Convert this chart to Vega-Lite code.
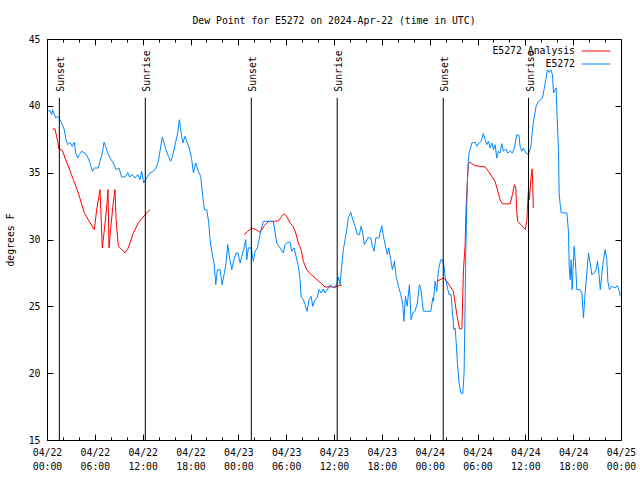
{
"$schema": "https://vega.github.io/schema/vega-lite/v6.json",
"autosize": {"type": "none"},
"padding": {"left": 47, "top": 39, "right": 19, "bottom": 40},
"width": 574,
"height": 401,
"background": "white",
"title": {"text": "Dew Point for E5272 on 2024-Apr-22 (time in UTC)", "font": "DejaVu Sans Mono", "fontSize": 9.8, "fontWeight": "normal", "color": "black", "offset": 8},
"config": {
  "view": {"stroke": "black", "strokeWidth": 1},
  "axis": {"labelFont": "DejaVu Sans Mono", "labelFontSize": 9.8, "labelColor": "black", "titleFont": "DejaVu Sans Mono", "titleFontSize": 9.8, "titleFontWeight": "normal", "titleColor": "black", "tickColor": "black", "domain": false, "grid": false, "labelFlush": false, "labelOverlap": false}
},
"datasets": {
"ana": [
{"seg":1,"hour":0.67,"dewpoint":38.27},{"seg":1,"hour":1.0,"dewpoint":38.27},{"seg":1,"hour":1.34,"dewpoint":37.34},{"seg":1,"hour":1.5,"dewpoint":36.77},{"seg":1,"hour":1.92,"dewpoint":36.67},{"seg":1,"hour":2.26,"dewpoint":36.1},{"seg":1,"hour":2.76,"dewpoint":35.35},{"seg":1,"hour":3.3,"dewpoint":34.48},{"seg":1,"hour":3.93,"dewpoint":33.48},{"seg":1,"hour":4.68,"dewpoint":31.99},{"seg":1,"hour":5.4,"dewpoint":31.24},{"seg":1,"hour":5.94,"dewpoint":30.74},{"seg":1,"hour":6.23,"dewpoint":32.23},{"seg":1,"hour":6.65,"dewpoint":33.73},{"seg":1,"hour":6.94,"dewpoint":29.37},{"seg":1,"hour":7.15,"dewpoint":30.5},{"seg":1,"hour":7.5,"dewpoint":32.5},{"seg":1,"hour":7.65,"dewpoint":33.73},{"seg":1,"hour":7.78,"dewpoint":29.37},{"seg":1,"hour":8.0,"dewpoint":30.9},{"seg":1,"hour":8.3,"dewpoint":32.7},{"seg":1,"hour":8.53,"dewpoint":33.73},{"seg":1,"hour":8.66,"dewpoint":31.5},{"seg":1,"hour":8.95,"dewpoint":29.49},{"seg":1,"hour":9.3,"dewpoint":29.3},{"seg":1,"hour":9.79,"dewpoint":29.0},{"seg":1,"hour":10.2,"dewpoint":29.37},{"seg":1,"hour":10.83,"dewpoint":30.49},{"seg":1,"hour":11.46,"dewpoint":31.24},{"seg":1,"hour":12.3,"dewpoint":31.86},{"seg":1,"hour":12.92,"dewpoint":32.23},
{"seg":2,"hour":24.72,"dewpoint":30.36},{"seg":2,"hour":25.18,"dewpoint":30.61},{"seg":2,"hour":25.68,"dewpoint":30.86},{"seg":2,"hour":26.18,"dewpoint":30.74},{"seg":2,"hour":26.73,"dewpoint":30.54},{"seg":2,"hour":27.27,"dewpoint":31.04},{"seg":2,"hour":27.77,"dewpoint":31.34},{"seg":2,"hour":28.52,"dewpoint":31.36},{"seg":2,"hour":29.02,"dewpoint":31.39},{"seg":2,"hour":29.44,"dewpoint":31.73},{"seg":2,"hour":29.78,"dewpoint":31.91},{"seg":2,"hour":30.07,"dewpoint":31.73},{"seg":2,"hour":30.49,"dewpoint":31.24},{"seg":2,"hour":30.9,"dewpoint":30.94},{"seg":2,"hour":31.2,"dewpoint":30.49},{"seg":2,"hour":31.53,"dewpoint":29.74},{"seg":2,"hour":31.87,"dewpoint":29.24},{"seg":2,"hour":32.16,"dewpoint":28.37},{"seg":2,"hour":32.58,"dewpoint":27.74},{"seg":2,"hour":33.0,"dewpoint":27.44},{"seg":2,"hour":33.63,"dewpoint":27.12},{"seg":2,"hour":34.25,"dewpoint":26.8},{"seg":2,"hour":34.88,"dewpoint":26.45},{"seg":2,"hour":35.72,"dewpoint":26.45},{"seg":2,"hour":36.14,"dewpoint":26.45},{"seg":2,"hour":36.64,"dewpoint":26.55},{"seg":2,"hour":37.0,"dewpoint":26.6},
{"seg":3,"hour":48.9,"dewpoint":26.87},{"seg":3,"hour":49.3,"dewpoint":26.99},{"seg":3,"hour":49.73,"dewpoint":27.12},{"seg":3,"hour":50.15,"dewpoint":26.87},{"seg":3,"hour":50.56,"dewpoint":26.5},{"seg":3,"hour":50.98,"dewpoint":26.12},{"seg":3,"hour":51.28,"dewpoint":24.88},{"seg":3,"hour":51.53,"dewpoint":23.99},{"seg":3,"hour":51.74,"dewpoint":23.31},{"seg":3,"hour":52.04,"dewpoint":23.31},{"seg":3,"hour":52.24,"dewpoint":27.74},{"seg":3,"hour":52.45,"dewpoint":29.62},{"seg":3,"hour":52.57,"dewpoint":32.36},{"seg":3,"hour":52.74,"dewpoint":34.48},{"seg":3,"hour":52.86,"dewpoint":35.72},{"seg":3,"hour":53.07,"dewpoint":35.77},{"seg":3,"hour":53.7,"dewpoint":35.52},{"seg":3,"hour":54.33,"dewpoint":35.47},{"seg":3,"hour":54.96,"dewpoint":35.43},{"seg":3,"hour":55.37,"dewpoint":35.1},{"seg":3,"hour":55.8,"dewpoint":34.72},{"seg":3,"hour":56.21,"dewpoint":34.35},{"seg":3,"hour":56.55,"dewpoint":33.6},{"seg":3,"hour":56.83,"dewpoint":32.98},{"seg":3,"hour":57.12,"dewpoint":32.68},{"seg":3,"hour":57.68,"dewpoint":32.66},{"seg":3,"hour":58.09,"dewpoint":32.66},{"seg":3,"hour":58.38,"dewpoint":33.35},{"seg":3,"hour":58.63,"dewpoint":34.1},{"seg":3,"hour":58.8,"dewpoint":33.85},{"seg":3,"hour":58.93,"dewpoint":31.99},{"seg":3,"hour":59.05,"dewpoint":31.36},{"seg":3,"hour":59.56,"dewpoint":31.04},{"seg":3,"hour":59.98,"dewpoint":30.74},{"seg":3,"hour":60.19,"dewpoint":31.36},{"seg":3,"hour":60.26,"dewpoint":32.23},{"seg":3,"hour":60.39,"dewpoint":33.73},{"seg":3,"hour":60.51,"dewpoint":32.98},{"seg":3,"hour":60.69,"dewpoint":34.48},{"seg":3,"hour":60.85,"dewpoint":35.28},{"seg":3,"hour":60.94,"dewpoint":33.98},{"seg":3,"hour":61.0,"dewpoint":32.36}
],
"obs": [
{"hour":0.16,"dewpoint":39.58},{"hour":0.38,"dewpoint":39.66},{"hour":0.59,"dewpoint":39.34},{"hour":0.71,"dewpoint":39.71},{"hour":0.86,"dewpoint":39.46},{"hour":1.09,"dewpoint":39.09},{"hour":1.34,"dewpoint":39.21},{"hour":1.63,"dewpoint":38.96},{"hour":1.84,"dewpoint":38.72},{"hour":2.17,"dewpoint":38.22},{"hour":2.38,"dewpoint":37.47},{"hour":2.59,"dewpoint":37.09},{"hour":2.89,"dewpoint":37.27},{"hour":3.17,"dewpoint":36.97},{"hour":3.43,"dewpoint":37.27},{"hour":3.6,"dewpoint":36.47},{"hour":3.85,"dewpoint":36.1},{"hour":4.06,"dewpoint":36.35},{"hour":4.35,"dewpoint":36.6},{"hour":4.77,"dewpoint":36.47},{"hour":5.06,"dewpoint":36.22},{"hour":5.4,"dewpoint":35.72},{"hour":5.69,"dewpoint":35.1},{"hour":5.94,"dewpoint":35.35},{"hour":6.44,"dewpoint":35.35},{"hour":6.65,"dewpoint":35.85},{"hour":6.94,"dewpoint":36.47},{"hour":7.15,"dewpoint":37.27},{"hour":7.36,"dewpoint":36.97},{"hour":7.61,"dewpoint":36.47},{"hour":7.9,"dewpoint":36.1},{"hour":8.32,"dewpoint":35.72},{"hour":8.66,"dewpoint":35.22},{"hour":9.03,"dewpoint":35.35},{"hour":9.37,"dewpoint":34.68},{"hour":9.79,"dewpoint":34.68},{"hour":10.12,"dewpoint":35.02},{"hour":10.37,"dewpoint":34.68},{"hour":10.71,"dewpoint":34.85},{"hour":11.04,"dewpoint":34.6},{"hour":11.38,"dewpoint":34.85},{"hour":11.67,"dewpoint":34.48},{"hour":11.88,"dewpoint":35.1},{"hour":12.13,"dewpoint":34.23},{"hour":12.5,"dewpoint":34.6},{"hour":12.92,"dewpoint":34.98},{"hour":13.34,"dewpoint":35.1},{"hour":13.68,"dewpoint":35.35},{"hour":13.97,"dewpoint":35.85},{"hour":14.27,"dewpoint":36.97},{"hour":14.47,"dewpoint":37.67},{"hour":14.68,"dewpoint":37.22},{"hour":14.93,"dewpoint":36.72},{"hour":15.22,"dewpoint":36.22},{"hour":15.52,"dewpoint":35.85},{"hour":15.85,"dewpoint":36.47},{"hour":16.15,"dewpoint":37.34},{"hour":16.4,"dewpoint":37.97},{"hour":16.6,"dewpoint":38.96},{"hour":16.81,"dewpoint":38.09},{"hour":17.03,"dewpoint":37.22},{"hour":17.31,"dewpoint":37.72},{"hour":17.6,"dewpoint":37.22},{"hour":17.85,"dewpoint":36.85},{"hour":18.16,"dewpoint":35.97},{"hour":18.36,"dewpoint":34.98},{"hour":18.66,"dewpoint":35.72},{"hour":18.98,"dewpoint":35.1},{"hour":19.28,"dewpoint":34.72},{"hour":19.54,"dewpoint":33.23},{"hour":19.74,"dewpoint":32.23},{"hour":20.04,"dewpoint":32.23},{"hour":20.29,"dewpoint":31.24},{"hour":20.45,"dewpoint":29.99},{"hour":20.7,"dewpoint":28.99},{"hour":20.95,"dewpoint":28.25},{"hour":21.17,"dewpoint":26.62},{"hour":21.37,"dewpoint":27.74},{"hour":21.71,"dewpoint":27.74},{"hour":21.96,"dewpoint":26.62},{"hour":22.25,"dewpoint":27.5},{"hour":22.46,"dewpoint":28.25},{"hour":22.67,"dewpoint":29.62},{"hour":22.87,"dewpoint":28.74},{"hour":23.17,"dewpoint":27.74},{"hour":23.46,"dewpoint":28.49},{"hour":23.71,"dewpoint":28.99},{"hour":23.96,"dewpoint":28.99},{"hour":24.22,"dewpoint":28.25},{"hour":24.43,"dewpoint":28.74},{"hour":24.72,"dewpoint":29.37},{"hour":24.93,"dewpoint":29.99},{"hour":25.06,"dewpoint":28.49},{"hour":25.26,"dewpoint":29.37},{"hour":25.6,"dewpoint":29.37},{"hour":25.89,"dewpoint":28.37},{"hour":26.1,"dewpoint":29.12},{"hour":26.39,"dewpoint":29.37},{"hour":26.6,"dewpoint":29.99},{"hour":26.85,"dewpoint":30.74},{"hour":27.14,"dewpoint":31.36},{"hour":27.57,"dewpoint":31.36},{"hour":27.98,"dewpoint":31.36},{"hour":28.4,"dewpoint":31.36},{"hour":28.61,"dewpoint":30.49},{"hour":28.82,"dewpoint":29.74},{"hour":29.23,"dewpoint":29.37},{"hour":29.65,"dewpoint":28.99},{"hour":29.86,"dewpoint":29.62},{"hour":30.2,"dewpoint":29.79},{"hour":30.49,"dewpoint":29.79},{"hour":30.7,"dewpoint":29.12},{"hour":30.99,"dewpoint":29.37},{"hour":31.24,"dewpoint":28.74},{"hour":31.53,"dewpoint":27.99},{"hour":31.74,"dewpoint":27.0},{"hour":31.87,"dewpoint":25.75},{"hour":32.16,"dewpoint":25.5},{"hour":32.37,"dewpoint":25.13},{"hour":32.62,"dewpoint":24.63},{"hour":32.87,"dewpoint":25.5},{"hour":33.12,"dewpoint":25.75},{"hour":33.34,"dewpoint":25.0},{"hour":33.63,"dewpoint":25.5},{"hour":33.88,"dewpoint":25.63},{"hour":34.13,"dewpoint":26.25},{"hour":34.38,"dewpoint":26.0},{"hour":34.67,"dewpoint":26.3},{"hour":34.88,"dewpoint":26.0},{"hour":35.22,"dewpoint":26.3},{"hour":35.51,"dewpoint":26.62},{"hour":35.8,"dewpoint":26.45},{"hour":36.14,"dewpoint":26.38},{"hour":36.43,"dewpoint":26.87},{"hour":36.55,"dewpoint":27.2},{"hour":36.76,"dewpoint":26.62},{"hour":36.97,"dewpoint":27.99},{"hour":37.17,"dewpoint":29.24},{"hour":37.39,"dewpoint":29.99},{"hour":37.6,"dewpoint":30.74},{"hour":37.8,"dewpoint":31.62},{"hour":38.1,"dewpoint":32.03},{"hour":38.36,"dewpoint":31.48},{"hour":38.65,"dewpoint":30.99},{"hour":38.93,"dewpoint":30.36},{"hour":39.18,"dewpoint":30.36},{"hour":39.4,"dewpoint":30.99},{"hour":39.6,"dewpoint":30.49},{"hour":39.81,"dewpoint":29.62},{"hour":40.03,"dewpoint":29.87},{"hour":40.24,"dewpoint":30.12},{"hour":40.61,"dewpoint":30.12},{"hour":40.82,"dewpoint":29.49},{"hour":41.03,"dewpoint":29.12},{"hour":41.24,"dewpoint":30.12},{"hour":41.66,"dewpoint":30.12},{"hour":41.78,"dewpoint":30.49},{"hour":41.99,"dewpoint":31.04},{"hour":42.2,"dewpoint":30.24},{"hour":42.41,"dewpoint":29.62},{"hour":42.7,"dewpoint":28.87},{"hour":42.87,"dewpoint":29.37},{"hour":43.12,"dewpoint":28.49},{"hour":43.33,"dewpoint":27.74},{"hour":43.58,"dewpoint":28.37},{"hour":43.79,"dewpoint":27.24},{"hour":44.08,"dewpoint":26.5},{"hour":44.38,"dewpoint":25.87},{"hour":44.63,"dewpoint":25.13},{"hour":44.76,"dewpoint":23.88},{"hour":44.96,"dewpoint":25.75},{"hour":45.17,"dewpoint":25.0},{"hour":45.46,"dewpoint":26.62},{"hour":45.67,"dewpoint":24.0},{"hour":45.88,"dewpoint":24.51},{"hour":46.17,"dewpoint":24.63},{"hour":46.46,"dewpoint":25.25},{"hour":46.71,"dewpoint":26.62},{"hour":46.88,"dewpoint":26.38},{"hour":47.21,"dewpoint":24.63},{"hour":47.64,"dewpoint":24.63},{"hour":48.14,"dewpoint":24.63},{"hour":48.39,"dewpoint":25.63},{"hour":48.47,"dewpoint":25.37},{"hour":48.68,"dewpoint":26.87},{"hour":48.9,"dewpoint":26.12},{"hour":49.1,"dewpoint":27.74},{"hour":49.4,"dewpoint":28.49},{"hour":49.6,"dewpoint":28.49},{"hour":49.81,"dewpoint":27.99},{"hour":49.94,"dewpoint":27.24},{"hour":50.28,"dewpoint":26.25},{"hour":50.44,"dewpoint":25.87},{"hour":50.69,"dewpoint":25.87},{"hour":50.86,"dewpoint":24.51},{"hour":51.04,"dewpoint":23.26},{"hour":51.19,"dewpoint":23.38},{"hour":51.32,"dewpoint":22.38},{"hour":51.48,"dewpoint":20.77},{"hour":51.69,"dewpoint":19.27},{"hour":51.9,"dewpoint":18.52},{"hour":52.15,"dewpoint":18.47},{"hour":52.32,"dewpoint":20.02},{"hour":52.45,"dewpoint":25.5},{"hour":52.53,"dewpoint":28.99},{"hour":52.66,"dewpoint":32.73},{"hour":52.78,"dewpoint":35.22},{"hour":52.91,"dewpoint":36.35},{"hour":53.07,"dewpoint":36.72},{"hour":53.29,"dewpoint":37.22},{"hour":53.7,"dewpoint":37.27},{"hour":53.91,"dewpoint":36.97},{"hour":54.12,"dewpoint":37.17},{"hour":54.45,"dewpoint":37.34},{"hour":54.74,"dewpoint":37.92},{"hour":54.96,"dewpoint":37.47},{"hour":55.17,"dewpoint":37.09},{"hour":55.37,"dewpoint":37.34},{"hour":55.58,"dewpoint":36.85},{"hour":55.8,"dewpoint":37.22},{"hour":56.0,"dewpoint":36.72},{"hour":56.21,"dewpoint":37.09},{"hour":56.42,"dewpoint":36.1},{"hour":56.62,"dewpoint":36.6},{"hour":56.83,"dewpoint":36.47},{"hour":57.05,"dewpoint":37.17},{"hour":57.25,"dewpoint":36.6},{"hour":57.55,"dewpoint":36.77},{"hour":57.8,"dewpoint":36.47},{"hour":58.09,"dewpoint":36.6},{"hour":58.38,"dewpoint":36.47},{"hour":58.63,"dewpoint":36.85},{"hour":58.93,"dewpoint":37.84},{"hour":59.22,"dewpoint":37.77},{"hour":59.34,"dewpoint":36.97},{"hour":59.56,"dewpoint":36.6},{"hour":59.76,"dewpoint":36.85},{"hour":60.06,"dewpoint":36.47},{"hour":60.39,"dewpoint":36.35},{"hour":60.69,"dewpoint":36.92},{"hour":60.94,"dewpoint":38.46},{"hour":61.1,"dewpoint":39.09},{"hour":61.35,"dewpoint":39.96},{"hour":61.64,"dewpoint":40.33},{"hour":61.94,"dewpoint":40.46},{"hour":62.14,"dewpoint":40.59},{"hour":62.35,"dewpoint":41.21},{"hour":62.57,"dewpoint":41.96},{"hour":62.77,"dewpoint":42.7},{"hour":62.98,"dewpoint":42.5},{"hour":63.19,"dewpoint":42.7},{"hour":63.4,"dewpoint":42.33},{"hour":63.53,"dewpoint":40.96},{"hour":63.86,"dewpoint":41.34},{"hour":63.95,"dewpoint":39.71},{"hour":64.16,"dewpoint":36.72},{"hour":64.24,"dewpoint":33.48},{"hour":64.37,"dewpoint":32.6},{"hour":64.5,"dewpoint":31.99},{"hour":64.79,"dewpoint":31.99},{"hour":65.21,"dewpoint":31.99},{"hour":65.41,"dewpoint":30.61},{"hour":65.5,"dewpoint":27.99},{"hour":65.62,"dewpoint":27.0},{"hour":65.75,"dewpoint":28.49},{"hour":65.87,"dewpoint":26.25},{"hour":65.96,"dewpoint":27.5},{"hour":66.12,"dewpoint":29.49},{"hour":66.29,"dewpoint":28.25},{"hour":66.46,"dewpoint":26.25},{"hour":66.66,"dewpoint":26.25},{"hour":66.88,"dewpoint":26.25},{"hour":67.09,"dewpoint":26.0},{"hour":67.29,"dewpoint":24.13},{"hour":67.5,"dewpoint":26.0},{"hour":67.71,"dewpoint":27.5},{"hour":67.92,"dewpoint":28.99},{"hour":68.13,"dewpoint":28.25},{"hour":68.34,"dewpoint":27.37},{"hour":68.63,"dewpoint":27.5},{"hour":68.88,"dewpoint":27.74},{"hour":69.05,"dewpoint":28.37},{"hour":69.23,"dewpoint":27.5},{"hour":69.4,"dewpoint":26.25},{"hour":69.61,"dewpoint":27.5},{"hour":69.81,"dewpoint":28.49},{"hour":70.01,"dewpoint":29.24},{"hour":70.22,"dewpoint":28.49},{"hour":70.35,"dewpoint":26.87},{"hour":70.55,"dewpoint":26.25},{"hour":70.85,"dewpoint":26.5},{"hour":71.27,"dewpoint":26.38},{"hour":71.55,"dewpoint":26.55},{"hour":71.81,"dewpoint":26.12},{"hour":71.9,"dewpoint":25.75}
],
"sun": [
{"hour":1.55,"event":"Sunset"},{"hour":12.33,"event":"Sunrise"},{"hour":25.63,"event":"Sunset"},{"hour":36.4,"event":"Sunrise"},{"hour":49.7,"event":"Sunset"},{"hour":60.4,"event":"Sunrise"}
]
},
"layer": [
{
  "data": {"name": "ana"},
  "mark": {"type": "line", "strokeWidth": 1},
  "encoding": {
    "x": {"field": "hour", "type": "quantitative", "scale": {"domain": [0, 72], "nice": false, "zero": false},
          "axis": {"orient": "top", "labels": false, "values": [0,6,12,18,24,30,36,42,48,54,60,66,72], "tickSize": -6, "title": null}},
    "y": {"field": "dewpoint", "type": "quantitative", "scale": {"domain": [15, 45], "nice": false, "zero": false},
          "axis": {"orient": "right", "labels": false, "values": [15,20,25,30,35,40,45], "tickSize": -6, "title": null}},
    "detail": {"field": "seg"},
    "color": {"datum": "E5272 Analysis", "type": "nominal",
              "scale": {"domain": ["E5272 Analysis", "E5272"], "range": ["#ff0000", "#0088ff"]},
              "legend": {"orient": "none", "legendX": 534, "legendY": 5, "title": null, "symbolType": "M-2.2,0H2.2", "symbolSize": 169, "symbolStrokeWidth": 1, "symbolOffset": 8, "labelAlign": "right", "labelOffset": -28, "labelFont": "DejaVu Sans Mono", "labelFontSize": 9.8, "labelColor": "black", "padding": 0, "rowPadding": 1}}
  }
},
{
  "data": {"name": "obs"},
  "mark": {"type": "line", "strokeWidth": 1},
  "encoding": {
    "x": {"field": "hour", "type": "quantitative", "scale": {"domain": [0, 72], "nice": false, "zero": false},
          "axis": {"orient": "bottom", "values": [0,6,12,18,24,30,36,42,48,54,60,66,72], "tickSize": -6, "labelPadding": 13, "labelBaseline": "top", "labelLineHeight": 14, "title": null,
                   "labelExpr": "['04/' + (22 + floor(datum.value / 24)), ((datum.value % 24) < 10 ? '0' : '') + (datum.value % 24) + ':00']"}},
    "y": {"field": "dewpoint", "type": "quantitative", "scale": {"domain": [15, 45], "nice": false, "zero": false},
          "axis": {"orient": "left", "values": [15,20,25,30,35,40,45], "tickSize": -6, "labelPadding": 13, "title": "degrees F", "titlePadding": 13}},
    "color": {"datum": "E5272", "type": "nominal"}
  }
},
{
  "data": {"name": "sun"},
  "mark": {"type": "rule", "color": "black", "strokeWidth": 1},
  "encoding": {
    "x": {"field": "hour", "type": "quantitative", "scale": {"domain": [0, 72], "nice": false, "zero": false},
          "axis": {"orient": "bottom", "labels": false, "values": [2,4,8,10,14,16,20,22,26,28,32,34,38,40,44,46,50,52,56,58,62,64,68,70], "tickSize": -3, "title": null}},
    "y": {"datum": 15, "type": "quantitative", "axis": null},
    "y2": {"datum": 40.6}
  }
},
{
  "data": {"name": "sun"},
  "mark": {"type": "text", "angle": 270, "align": "left", "baseline": "middle", "dy": 2, "font": "DejaVu Sans Mono", "fontSize": 9.8, "color": "black"},
  "encoding": {
    "x": {"field": "hour", "type": "quantitative", "scale": {"domain": [0, 72], "nice": false, "zero": false},
          "axis": {"orient": "top", "labels": false, "values": [2,4,8,10,14,16,20,22,26,28,32,34,38,40,44,46,50,52,56,58,62,64,68,70], "tickSize": -3, "title": null}},
    "y": {"datum": 41.06, "type": "quantitative", "axis": null},
    "text": {"field": "event"}
  }
}
],
"resolve": {"axis": {"x": "independent", "y": "independent"}}
}
